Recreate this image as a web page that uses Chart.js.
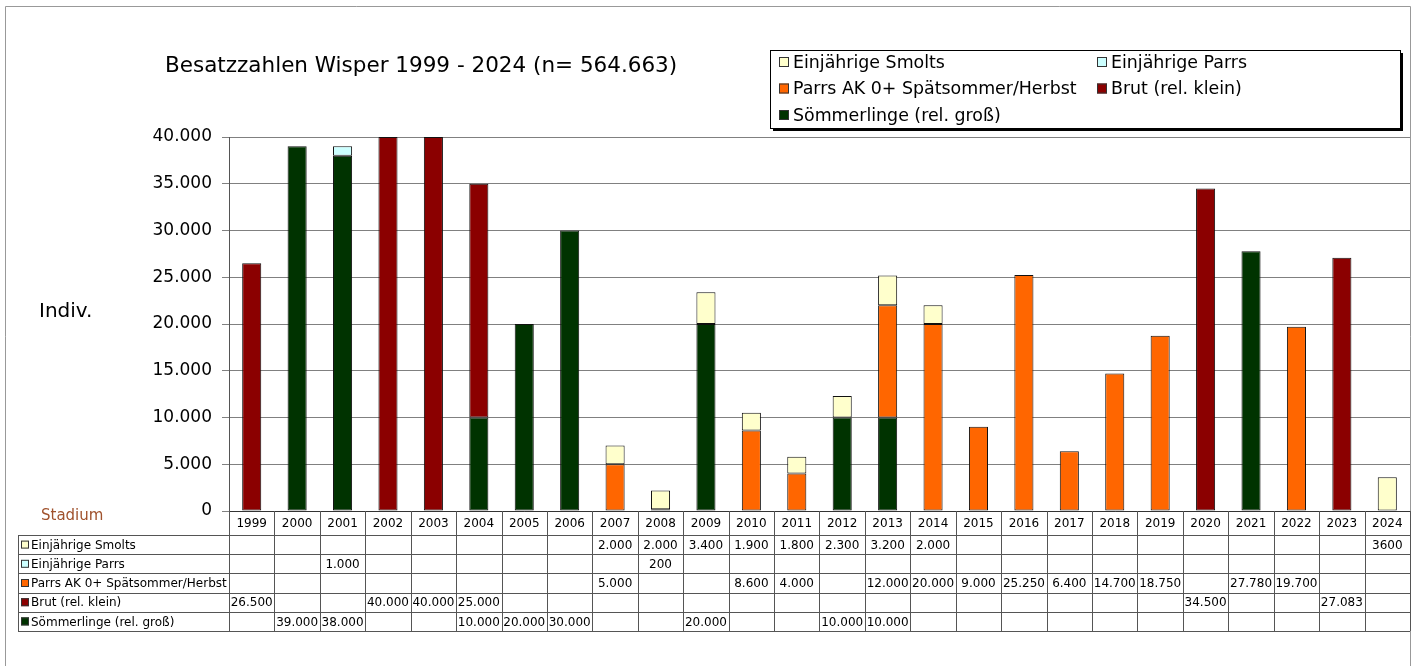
<!DOCTYPE html>
<html>
<head>
<meta charset="utf-8">
<title>Besatzzahlen Wisper 1999 - 2024</title>
<script src="https://cdn.jsdelivr.net/npm/chart.js@4.4.0/dist/chart.umd.min.js"></script>
<style>
  html, body { margin: 0; padding: 0; background: #fff; }
  #wrap { position: relative; width: 1418px; height: 666px; }
</style>
</head>
<body>
<div id="wrap"><canvas id="chart" width="1418" height="666"></canvas></div>
<script>
// Daten (Besatzzahlen je Stadium und Jahr, Werte aus der Tabelle)
const years = [1999, 2000, 2001, 2002, 2003, 2004, 2005, 2006, 2007, 2008, 2009, 2010, 2011,
               2012, 2013, 2014, 2015, 2016, 2017, 2018, 2019, 2020, 2021, 2022, 2023, 2024];

const smolts = [null, null, null, null, null, null, null, null, 2000, 2000, 3400, 1900, 1800,
                2300, 3200, 2000, null, null, null, null, null, null, null, null, null, 3600];
const einjParrs = [null, null, 1000, null, null, null, null, null, null, 200, null, null, null,
                   null, null, null, null, null, null, null, null, null, null, null, null, null];
const parrsAK = [null, null, null, null, null, null, null, null, 5000, null, null, 8600, 4000,
                 null, 12000, 20000, 9000, 25250, 6400, 14700, 18750, null, 27780, 19700, null, null];
const brut = [26500, null, null, 40000, 40000, 25000, null, null, null, null, null, null, null,
              null, null, null, null, null, null, null, null, 34500, null, null, 27083, null];
const soemmerlinge = [null, 39000, 38000, null, null, 10000, 20000, 30000, null, null, 20000, null, null,
                      10000, 10000, null, null, null, null, null, null, null, null, null, null, null];

const yTicks = [0, 5000, 10000, 15000, 20000, 25000, 30000, 35000, 40000];

const COL = {
    smolts: '#ffffcc',
    einjParrs: '#ccffff',
    parrsAK: '#ff6600',
    brut: '#8b0000',
    soemm: '#003300'
};

Chart.defaults.font.family = "'DejaVu Sans', Verdana, sans-serif";
Chart.defaults.color = '#000';

// Tausenderpunkt wie im Original
function fmt(v) {
    return String(v).replace(/\B(?=(\d{3})+(?!\d))/g, '.');
}

// Datensätze von unten nach oben gestapelt
const datasets = [
    { label: 'Sömmerlinge (rel. groß)', data: soemmerlinge, backgroundColor: COL.soemm },
    { label: 'Brut (rel. klein)', data: brut, backgroundColor: COL.brut },
    {
        label: 'Parrs AK 0+ Spätsommer/Herbst', data: parrsAK,
        // im Original ist die Säule 2021 dunkelgrün eingefärbt
        backgroundColor: ctx => years[ctx.dataIndex] === 2021 ? COL.soemm : COL.parrsAK
    },
    { label: 'Einjährige Parrs', data: einjParrs, backgroundColor: COL.einjParrs },
    { label: 'Einjährige Smolts', data: smolts, backgroundColor: COL.smolts }
].map(ds => Object.assign(ds, {
    borderColor: '#111',
    borderWidth: 1,
    borderSkipped: false,
    barPercentage: 0.42,
    categoryPercentage: 1.0
}));

// Rahmen, Titel, Legende und Datentabelle
const decorPlugin = {
    id: 'decor',
    beforeDraw(chart) {
        const c = chart.ctx;
        c.save();
        c.fillStyle = '#fff';
        c.fillRect(0, 0, chart.width, chart.height);
        c.strokeStyle = '#999';
        c.lineWidth = 1;
        c.beginPath();
        c.moveTo(5.5, 666);
        c.lineTo(5.5, 6.5);
        c.lineTo(1410.5, 6.5);
        c.lineTo(1410.5, 666);
        c.stroke();
        c.restore();
    },
    afterDraw(chart) {
        const c = chart.ctx;
        const x = chart.scales.x;
        const area = chart.chartArea;
        c.save();

        // Titel
        c.fillStyle = '#000';
        c.font = "21.5px 'DejaVu Sans'";
        c.textBaseline = 'middle';
        c.textAlign = 'left';
        c.fillText('Besatzzahlen Wisper 1999 - 2024 (n= 564.663)', 165, 66);

        // Achsentitel
        c.font = "20px 'DejaVu Sans'";
        c.fillText('Indiv.', 39, 312);
        c.fillStyle = '#a0522d';
        c.font = "15px 'DejaVu Sans'";
        c.fillText('Stadium', 41, 516);

        // Legende
        const lx = 770, ly = 50, lw = 630, lh = 78;
        c.fillStyle = '#000';
        c.fillRect(lx + 3, ly + 3, lw, lh);
        c.fillStyle = '#fff';
        c.fillRect(lx, ly, lw, lh);
        c.strokeStyle = '#000';
        c.lineWidth = 1;
        c.strokeRect(lx + 0.5, ly + 0.5, lw, lh);
        const legendItems = datasets.slice().reverse();
        const legendColors = [COL.smolts, COL.einjParrs, COL.parrsAK, COL.brut, COL.soemm];
        c.font = "17.4px 'DejaVu Sans'";
        legendItems.forEach((ds, i) => {
            const col = i % 2, row = Math.floor(i / 2);
            const sx = col === 0 ? 779 : 1097;
            const sy = 62 + row * 26.5;
            c.fillStyle = legendColors[i];
            c.fillRect(sx, sy - 5, 10, 10);
            c.strokeStyle = '#333';
            c.strokeRect(sx + 0.5, sy - 4.5, 9, 9);
            c.fillStyle = '#000';
            c.fillText(ds.label, sx + 14, sy + 1);
        });

        // Datentabelle
        const cw = x.getPixelForValue(1) - x.getPixelForValue(0);
        const headTop = area.bottom, tableTop = 535, rowH = 19.2;
        const rows = legendItems;
        const tableBottom = tableTop + rows.length * rowH;
        c.strokeStyle = '#555';
        c.lineWidth = 1;
        c.beginPath();
        for (let i = 0; i <= years.length; i++) {
            const px = Math.round(area.left + i * cw) + 0.5;
            c.moveTo(px, headTop);
            c.lineTo(px, tableBottom);
        }
        c.moveTo(18.5, tableTop);
        c.lineTo(18.5, tableBottom);
        for (let r = 0; r <= rows.length; r++) {
            const py = Math.round(tableTop + r * rowH) + 0.5;
            c.moveTo(18, py);
            c.lineTo(area.right, py);
        }
        c.stroke();

        c.font = "12px 'DejaVu Sans'";
        c.textAlign = 'center';
        c.fillStyle = '#000';
        years.forEach((yr, i) => {
            c.fillText(String(yr), x.getPixelForValue(i), (headTop + tableTop) / 2 + 1);
        });
        rows.forEach((ds, r) => {
            const cy = tableTop + r * rowH + rowH / 2 + 1;
            c.fillStyle = legendColors[r];
            c.fillRect(21, cy - 5, 8, 8);
            c.strokeStyle = '#333';
            c.strokeRect(21.5, cy - 4.5, 7, 7);
            c.fillStyle = '#000';
            c.textAlign = 'left';
            c.fillText(ds.label, 31, cy);
            c.textAlign = 'center';
            ds.data.forEach((v, i) => {
                if (v === null) return;
                // 2024 ist im Original ohne Tausenderpunkt eingetragen
                const txt = years[i] === 2024 ? String(v) : fmt(v);
                c.fillText(txt, x.getPixelForValue(i), cy);
            });
        });
        c.restore();
    }
};

new Chart(document.getElementById('chart'), {
    type: 'bar',
    data: { labels: years.map(String), datasets: datasets },
    options: {
        responsive: false,
        animation: false,
        layout: { padding: { left: 0, top: 137, right: 8, bottom: 155 } },
        plugins: {
            legend: { display: false },
            title: { display: false },
            tooltip: { enabled: false }
        },
        scales: {
            x: {
                stacked: true,
                grid: { display: false },
                ticks: { display: false },
                border: { display: true, color: '#333', width: 1 },
                afterFit: s => { s.height = 0; }
            },
            y: {
                stacked: true,
                min: 0,
                max: 40000,
                afterBuildTicks: s => { s.ticks = yTicks.map(v => ({ value: v })); },
                ticks: {
                    font: { size: 17 },
                    color: '#000',
                    padding: 10,
                    callback: v => fmt(v)
                },
                grid: { color: '#808080', lineWidth: 1, tickLength: 7 },
                border: { display: true, color: '#555', width: 1 },
                afterFit: s => { s.width = 229; }
            }
        }
    },
    plugins: [decorPlugin]
});
</script>
</body>
</html>
